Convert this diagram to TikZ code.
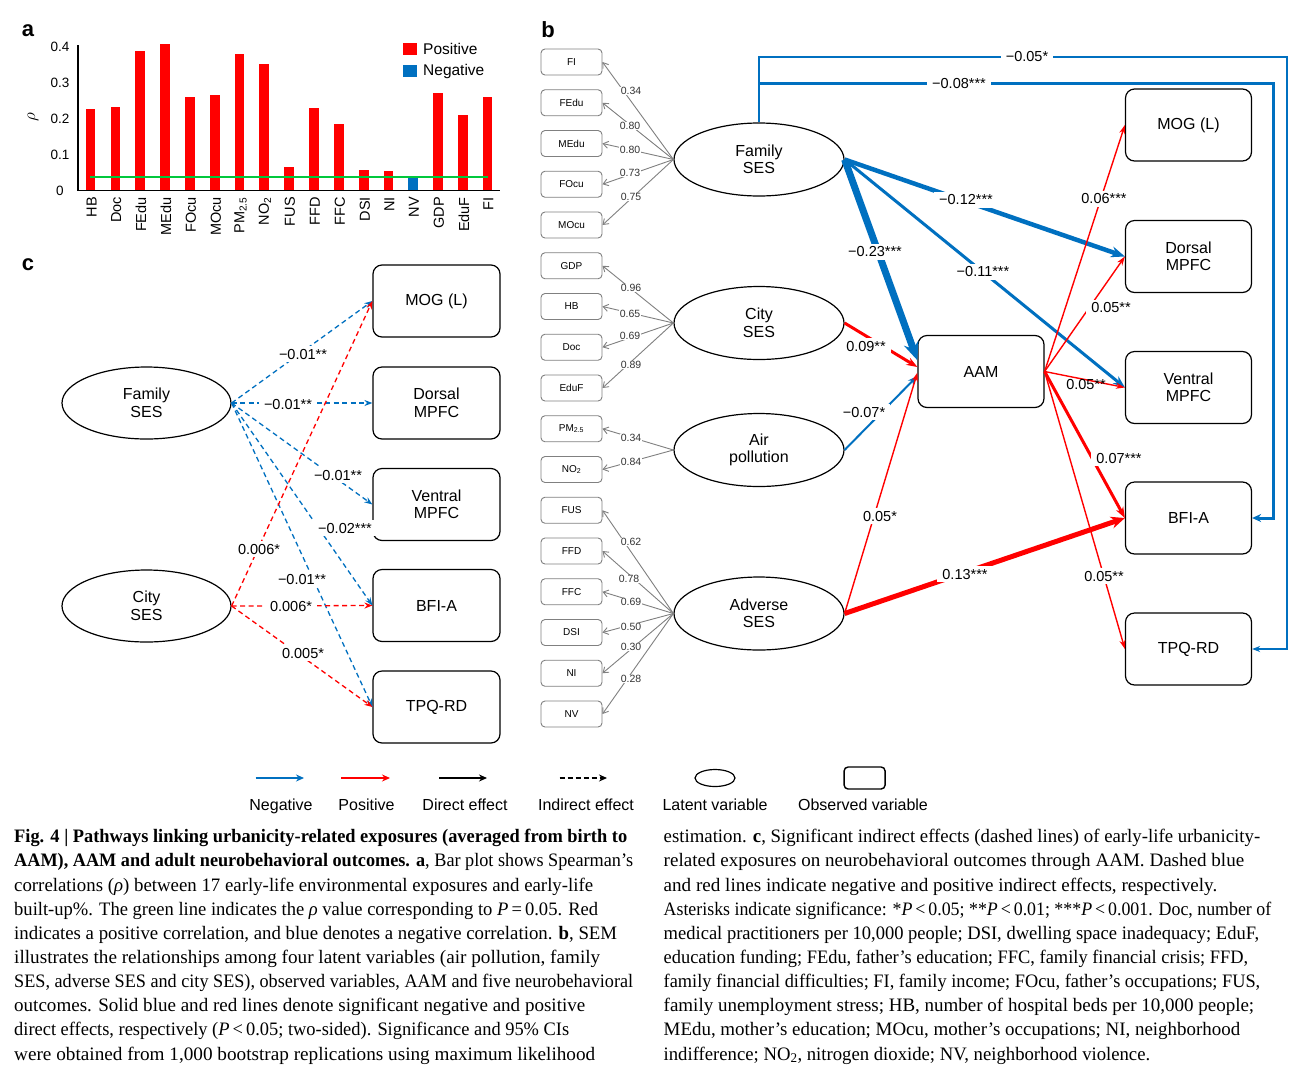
\documentclass[tikz,border=0pt]{standalone}
\usepackage{fontspec}
\usepackage{graphicx}
\setmainfont{Liberation Serif}
\setsansfont{Liberation Sans}
\usetikzlibrary{arrows.meta,shapes.geometric}
\definecolor{nblue}{RGB}{0,112,192}
\definecolor{pred}{RGB}{255,0,0}
\definecolor{ggreen}{RGB}{0,200,60}
\definecolor{lgray}{RGB}{128,128,128}
\newcommand{\capline}[4]{\node[anchor=base west, inner sep=0pt] at (#1,#2) {\resizebox{#3pt}{\height}{\rmfamily\fontsize{19}{22}\selectfont #4}};}
\begin{document}
\begin{tikzpicture}[x=1pt,y=-1pt,
  every node/.style={font=\sffamily},
  lab/.style={font=\sffamily\fontsize{14.5}{14.5}\selectfont, fill=white, inner xsep=5pt, inner ysep=3pt},
  llab/.style={font=\sffamily\fontsize{10.5}{10.5}\selectfont, fill=white, inner sep=0.6pt, text=black!80},
  lat/.style={ellipse, draw=black, line width=1.2pt, minimum width=170pt, minimum height=73pt, inner sep=0pt, align=center, font=\sffamily\fontsize{16}{17.5}\selectfont},
  obs/.style={draw=black, line width=1.2pt, rounded corners=9pt, minimum width=126pt, minimum height=72pt, inner sep=0pt, align=center, font=\sffamily\fontsize{16}{17.5}\selectfont},
  sobs/.style={draw=lgray, line width=0.9pt, rounded corners=4pt, minimum width=61pt, minimum height=26pt, inner sep=0pt, font=\sffamily\fontsize{10}{10}\selectfont},
  load/.style={draw=lgray, line width=0.9pt, -{Straight Barb[length=5pt,width=7pt]}},
  hd/.style 2 args={-{Stealth[length=#1pt,width=#2pt]}},
  cneg/.style={draw=nblue, line width=1.3pt, dash pattern=on 5pt off 3.5pt, -{Stealth[length=8pt,width=6pt]}},
  cpos/.style={draw=pred, line width=1.3pt, dash pattern=on 5pt off 3.5pt, -{Stealth[length=8pt,width=6pt]}},
  leg/.style={font=\sffamily\fontsize{16}{16}\selectfont, anchor=base, inner sep=0pt},
  panel/.style={font=\sffamily\bfseries\fontsize{22}{22}\selectfont, inner sep=0pt}
]
\fill[white] (0,0) rectangle (1302,1080);
\useasboundingbox (0,0) rectangle (1302,1080);

% ---------------- panel a ----------------
\node[panel] (pa) at (28,31) {a};
\foreach \xx/\vv/\cc/\nn [count=\i] in {90.7/0.227/pred/HB, 115.3/0.232/pred/Doc, 140/0.387/pred/FEdu, 165/0.407/pred/MEdu, 190/0.259/pred/FOcu, 215/0.266/pred/MOcu, 239.5/0.379/pred/{PM\textsubscript{2.5}}, 264/0.351/pred/{NO\textsubscript{2}}, 289/0.067/pred/FUS, 314/0.231/pred/FFD, 339/0.186/pred/FFC, 364/0.0575/pred/DSI, 388.5/0.055/pred/NI, 413/0.042/nblue/NV, 438/0.272/pred/GDP, 463/0.211/pred/EduF, 487.5/0.259/pred/FI}
{
  \fill[\cc] ({\xx-4.7},190.5) rectangle ({\xx+4.7},{190.7-360*\vv});
  \node[rotate=90, anchor=east, font=\sffamily\fontsize{14.5}{14.5}\selectfont, inner sep=0pt] (xt\i) at ({\xx+1},197) {\nn};
}
\draw[line width=1.2pt] (78,45) -- (78,190.7) -- (500,190.7);
\draw[ggreen, line width=1.7pt] (90,177.3) -- (488,177.3);
\foreach \v/\t [count=\i] in {0/0, 0.1/0.1, 0.2/0.2, 0.3/0.3, 0.4/0.4}
  \node[font=\sffamily\fontsize{13.5}{13.5}\selectfont, inner sep=0pt] (yt\i) at (60,{190.7-360*\v}) {\t};
\node[rotate=90, font=\fontsize{16}{16}\selectfont, inner sep=0pt] (rho) at (33,117) {$\rho$};
\fill[pred] (403,43) rectangle (417,55);
\fill[nblue] (403,65) rectangle (417,77);
\node[anchor=west, font=\sffamily\fontsize{15.5}{15.5}\selectfont, inner sep=0pt] (lpos) at (423,49) {Positive};
\node[anchor=west, font=\sffamily\fontsize{15.5}{15.5}\selectfont, inner sep=0pt] (lneg) at (423,71) {Negative};

% ---------------- panel b ----------------
\node[panel] (pb) at (548,30) {b};
\foreach \nm/\tx [count=\i from 0] in {fi/FI, fedu/FEdu, medu/MEdu, focu/FOcu, mocu/MOcu, gdp/GDP, hb/HB, doc/Doc, eduf/EduF, pm/{PM\textsubscript{2.5}}, no2/{NO\textsubscript{2}}, fus/FUS, ffd/FFD, ffc/FFC, dsi/DSI, ni/NI, nv/NV}
  \node[sobs] (\nm) at (571.5,{62+40.75*\i}) {\tx};

\node[lat] (famb) at (759,159.5) {Family\\SES};
\node[lat] (cityb) at (759,323) {City\\SES};
\node[lat] (airb) at (759,450) {Air\\pollution};
\node[lat] (advb) at (759,613.5) {Adverse\\SES};

\node[obs] (aamb) at (981,371.5) {AAM};
\node[obs] (mogb) at (1188.5,125) {MOG (L)};
\node[obs] (dorb) at (1188.5,256.5) {Dorsal\\MPFC};
\node[obs] (venb) at (1188.5,387.5) {Ventral\\MPFC};
\node[obs] (bfib) at (1188.5,518) {BFI-A};
\node[obs] (tpqb) at (1188.5,649) {TPQ-RD};

% loadings
\foreach \t in {fi,fedu,medu,focu,mocu} \draw[load] (famb.west) -- (\t.east);
\foreach \t in {gdp,hb,doc,eduf} \draw[load] (cityb.west) -- (\t.east);
\foreach \t in {pm,no2} \draw[load] (airb.west) -- (\t.east);
\foreach \t in {fus,ffd,ffc,dsi,ni,nv} \draw[load] (advb.west) -- (\t.east);
\foreach \x/\y/\t [count=\i] in {631/91/0.34, 630/126/0.80, 630/150/0.80, 630/173/0.73, 631/197/0.75, 631/288/0.96, 630/314/0.65, 630/336/0.69, 631/365/0.89, 631/438/0.34, 631/462/0.84, 631/542/0.62, 629/579/0.78, 631/602/0.69, 631/627/0.50, 631/647/0.30, 631/679/0.28}
  \node[llab] (ll\i) at (\x,\y) {\t};

% long blue paths
\coordinate (t1) at (759,57);
\coordinate (t2) at (1287,57);
\coordinate (s1) at (759,83);
\coordinate (s2) at (1273.5,83);
\draw[nblue, line width=1.6pt, hd={8}{6}] (famb.north) -- (t1) -- (t2) |- (tpqb.east);
\draw[nblue, line width=3pt, hd={9}{8}] (s1) -- (s2) |- (bfib.east);

% direct effects
\draw[nblue, line width=7pt, hd={18}{15}] (famb.east) -- (aamb.170);
\draw[nblue, line width=4.5pt, hd={14}{11}] (famb.east) -- (dorb.west);
\draw[nblue, line width=3pt, hd={12}{9}] (famb.east) -- (venb.west);
\draw[nblue, line width=2pt, hd={10}{7}] (airb.east) -- (aamb.184);
\draw[pred, line width=3pt, hd={11}{8}] (cityb.east) -- (aamb.176);
\draw[pred, line width=1.4pt, hd={9}{6}] (advb.east) -- (aamb.181);
\draw[pred, line width=5pt, hd={14}{12}] (advb.east) -- (bfib.west);
\draw[pred, line width=1.4pt, hd={9}{6}] (aamb.east) -- (mogb.west);
\draw[pred, line width=1.4pt, hd={9}{6}] (aamb.east) -- (dorb.west);
\draw[pred, line width=1.4pt, hd={9}{6}] (aamb.east) -- (venb.west);
\draw[pred, line width=3pt, hd={11}{8}] (aamb.east) -- (bfib.west);
\draw[pred, line width=1.4pt, hd={9}{6}] (aamb.east) -- (tpqb.west);

\node[lab] (b1) at (1027,57) {−0.05*};
\node[lab] (b2) at (959,84) {−0.08***};
\node[lab] (b3) at (966,200) {−0.12***};
\node[lab] (b4) at (983,272) {−0.11***};
\node[lab] (b5) at (875,252) {−0.23***};
\node[lab] (b6) at (866,346) {0.09**};
\node[lab] (b7) at (864,412) {−0.07*};
\node[lab] (b8) at (880,516) {0.05*};
\node[lab] (b9) at (965,574) {0.13***};
\node[lab] (b10) at (1104,199) {0.06***};
\node[lab] (b11) at (1111,308) {0.05**};
\node[lab, fill=none] (b12) at (1086,385) {0.05**};
\node[lab] (b13) at (1119,458) {0.07***};
\node[lab] (b14) at (1104,576) {0.05**};

% ---------------- panel c ----------------
\node[panel] (pc) at (28,265) {c};
\node[lat, minimum width=169pt, minimum height=72pt] (famc) at (146.5,403) {Family\\SES};
\node[lat, minimum width=169pt, minimum height=72pt] (cityc) at (146.5,606) {City\\SES};
\node[obs, minimum width=127pt] (mogc) at (436.5,301) {MOG (L)};
\node[obs, minimum width=127pt] (dorc) at (436.5,403) {Dorsal\\MPFC};
\node[obs, minimum width=127pt] (venc) at (436.5,504.5) {Ventral\\MPFC};
\node[obs, minimum width=127pt] (bfic) at (436.5,605.5) {BFI-A};
\node[obs, minimum width=127pt] (tpqc) at (436.5,707) {TPQ-RD};

\draw[cneg] (famc.east) -- (mogc.west);
\draw[cneg] (famc.east) -- (dorc.west);
\draw[cneg] (famc.east) -- (venc.west);
\draw[cneg] (famc.east) -- (bfic.west);
\draw[cneg] (famc.east) -- (tpqc.west);
\draw[cpos] (cityc.east) -- (mogc.west);
\draw[cpos] (cityc.east) -- (bfic.west);
\draw[cpos] (cityc.east) -- (tpqc.west);

\node[lab] (c1) at (303,354) {−0.01**};
\node[lab] (c2) at (288,404) {−0.01**};
\node[lab] (c3) at (338,475) {−0.01**};
\node[lab] (c4) at (345,528) {−0.02***};
\node[lab] (c5) at (259,549) {0.006*};
\node[lab] (c6) at (302,579) {−0.01**};
\node[lab] (c7) at (291,606) {0.006*};
\node[lab] (c8) at (303,653) {0.005*};

% ---------------- legend ----------------
\coordinate (g1a) at (255.5,778); \coordinate (g1b) at (304,778);
\coordinate (g2a) at (341,778);   \coordinate (g2b) at (390,778);
\coordinate (g3a) at (439,778);   \coordinate (g3b) at (487,778);
\coordinate (g4a) at (559.5,778); \coordinate (g4b) at (607,778);
\draw[nblue, line width=2.5pt, hd={8}{7}] (g1a) -- (g1b);
\draw[pred, line width=2.5pt, hd={8}{7}] (g2a) -- (g2b);
\draw[black, line width=2.5pt, hd={8}{7}] (g3a) -- (g3b);
\draw[black, line width=2.5pt, dash pattern=on 5pt off 3pt, hd={8}{7}] (g4a) -- (g4b);
\node[ellipse, draw=black, line width=1.2pt, minimum width=40pt, minimum height=17pt, inner sep=0pt] (gell) at (715,778) {};
\node[draw=black, rounded corners=4pt, line width=1.4pt, minimum width=41pt, minimum height=22pt, inner sep=0pt] (gbox) at (864.6,778) {};
\node[leg] (n1) at (281,810) {Negative};
\node[leg] (n2) at (366.5,810) {Positive};
\node[leg] (n3) at (465,810) {Direct effect};
\node[leg] (n4) at (586,810) {Indirect effect};
\node[leg] (n5) at (715,810) {Latent variable};
\node[leg] (n6) at (863,810) {Observed variable};

% ---------------- caption ----------------
\capline{14}{842.7}{613}{{\bfseries Fig. 4 | Pathways linking urbanicity-related exposures (averaged from birth to}}
\capline{14}{866.85}{619}{{\bfseries AAM), AAM and adult neurobehavioral outcomes. a}, Bar plot shows Spearman’s}
\capline{14}{891}{579}{correlations ({\itshape ρ}) between 17 early-life environmental exposures and early-life}
\capline{14}{915.15}{584}{built-up\%. The green line indicates the {\itshape ρ} value corresponding to {\itshape P}\,=\,0.05. Red}
\capline{14}{939.3}{603}{indicates a positive correlation, and blue denotes a negative correlation. {\bfseries b}, SEM}
\capline{14}{963.45}{586}{illustrates the relationships among four latent variables (air pollution, family}
\capline{14}{987.6}{619}{SES, adverse SES and city SES), observed variables, AAM and five neurobehavioral}
\capline{14}{1011.75}{571}{outcomes. Solid blue and red lines denote significant negative and positive}
\capline{14}{1035.9}{555}{direct effects, respectively ({\itshape P}\,<\,0.05; two-sided). Significance and 95\% CIs}
\capline{14}{1060.05}{581}{were obtained from 1,000 bootstrap replications using maximum likelihood}

\capline{663.5}{842.7}{596.5}{estimation. {\bfseries c}, Significant indirect effects (dashed lines) of early-life urbanicity-}
\capline{663.5}{866.85}{580.5}{related exposures on neurobehavioral outcomes through AAM. Dashed blue}
\capline{663.5}{891}{553.5}{and red lines indicate negative and positive indirect effects, respectively.}
\capline{663.5}{915.15}{607.5}{Asterisks indicate significance: *{\itshape P}\,<\,0.05; **{\itshape P}\,<\,0.01; ***{\itshape P}\,<\,0.001. Doc, number of}
\capline{663.5}{939.3}{595.5}{medical practitioners per 10,000 people; DSI, dwelling space inadequacy; EduF,}
\capline{663.5}{963.45}{584.5}{education funding; FEdu, father’s education; FFC, family financial crisis; FFD,}
\capline{663.5}{987.6}{596.5}{family financial difficulties; FI, family income; FOcu, father’s occupations; FUS,}
\capline{663.5}{1011.75}{590.5}{family unemployment stress; HB, number of hospital beds per 10,000 people;}
\capline{663.5}{1035.9}{576.5}{MEdu, mother’s education; MOcu, mother’s occupations; NI, neighborhood}
\capline{663.5}{1060.05}{486.5}{indifference; NO\textsubscript{2}, nitrogen dioxide; NV, neighborhood violence.}
\end{tikzpicture}
\end{document}
